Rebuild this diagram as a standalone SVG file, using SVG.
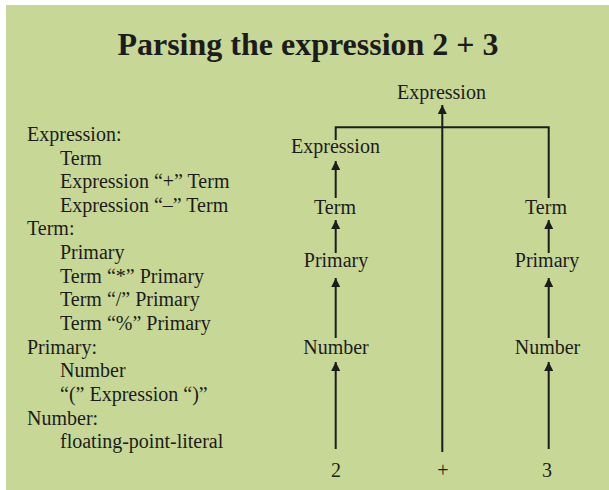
<svg xmlns="http://www.w3.org/2000/svg" width="609" height="490" viewBox="0 0 609 490">
<style>
text{font-family:"Liberation Serif","Times New Roman",serif;fill:#1c1c1c;font-size:20px}
.title{font-size:32px;font-weight:bold;text-anchor:middle}
.node{text-anchor:middle}
.conn{stroke:#1c1c1c;stroke-width:2;fill:none}
</style>
<defs>
<marker id="ah" viewBox="0 0 10 10" refX="10" refY="5" markerWidth="4.5" markerHeight="4.5" orient="auto" markerUnits="strokeWidth">
<path d="M0,0 L10,5 L0,10 z" fill="#1c1c1c"/>
</marker>
</defs>
<rect x="0" y="0" width="609" height="490" fill="#ffffff"/>
<rect x="6" y="5" width="603" height="485" fill="#c7d896"/>
<text class="title" x="308" y="55">Parsing the expression 2 + 3</text>
<g id="grammar">
<text x="27" y="141">Expression:</text>
<text x="60" y="165">Term</text>
<text x="60" y="188">Expression “+” Term</text>
<text x="60" y="212">Expression “–” Term</text>
<text x="27" y="235">Term:</text>
<text x="60" y="259">Primary</text>
<text x="60" y="283">Term “*” Primary</text>
<text x="60" y="306">Term “/” Primary</text>
<text x="60" y="330">Term “%” Primary</text>
<text x="27" y="354">Primary:</text>
<text x="60" y="377">Number</text>
<text x="60" y="401">“(” Expression “)”</text>
<text x="27" y="425">Number:</text>
<text x="60" y="448">floating-point-literal</text>
</g>
<g id="connectors">
<line class="conn" x1="442.3" y1="452" x2="442.3" y2="105" marker-end="url(#ah)"/>
<polyline class="conn" points="335.7,140 335.7,127.3 548.7,127.3 548.7,198"/>
<line class="conn" x1="335.7" y1="198" x2="335.7" y2="161" marker-end="url(#ah)"/>
<line class="conn" x1="335.7" y1="253" x2="335.7" y2="220" marker-end="url(#ah)"/>
<line class="conn" x1="335.7" y1="338" x2="335.7" y2="278" marker-end="url(#ah)"/>
<line class="conn" x1="335.7" y1="449" x2="335.7" y2="362" marker-end="url(#ah)"/>
<line class="conn" x1="548.7" y1="253" x2="548.7" y2="220" marker-end="url(#ah)"/>
<line class="conn" x1="548.7" y1="338" x2="548.7" y2="278" marker-end="url(#ah)"/>
<line class="conn" x1="548.7" y1="449" x2="548.7" y2="362" marker-end="url(#ah)"/>
</g>
<g id="n-expr-root"><text class="node" x="441.5" y="99">Expression</text></g>
<g id="n-expr-left"><text class="node" x="335.5" y="153">Expression</text></g>
<g id="n-term-left"><text class="node" x="335" y="214">Term</text></g>
<g id="n-primary-left"><text class="node" x="336" y="267">Primary</text></g>
<g id="n-number-left"><text class="node" x="336" y="354">Number</text></g>
<g id="n-2"><text class="node" x="336" y="477">2</text></g>
<g id="n-plus"><text class="node" x="443" y="477">+</text></g>
<g id="n-3"><text class="node" x="547" y="477">3</text></g>
<g id="n-term-right"><text class="node" x="546" y="214">Term</text></g>
<g id="n-primary-right"><text class="node" x="547" y="267">Primary</text></g>
<g id="n-number-right"><text class="node" x="547.5" y="354">Number</text></g>
</svg>
